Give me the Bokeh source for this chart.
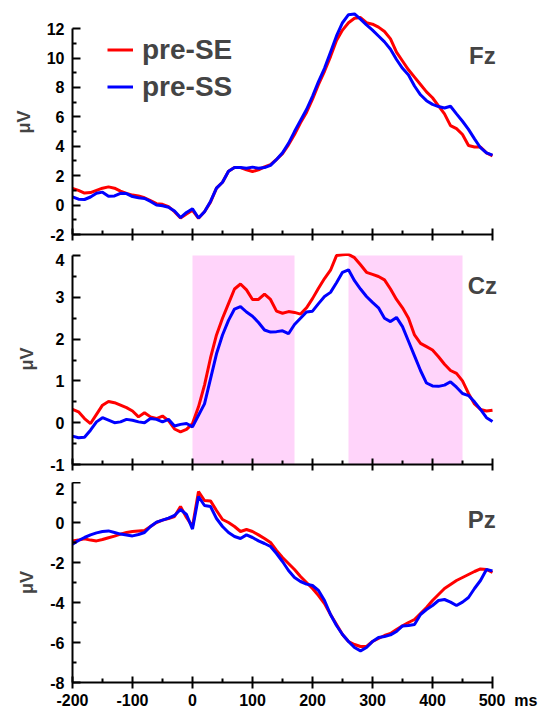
from bokeh.plotting import figure
from bokeh.models import (Range1d, BoxAnnotation, Label, Legend, LegendItem,
                          FixedTicker)
from bokeh.layouts import column
from bokeh.embed import file_html
from bokeh.resources import INLINE

# ---------------- data ----------------
time_ms = list(range(-200, 501, 10))

fz_pre_se = [1.13, 1.0, 0.82, 0.85, 1.0, 1.15, 1.24, 1.15, 0.95, 0.8,
             0.68, 0.62, 0.5, 0.3, 0.1, 0.05, -0.1, -0.45, -0.88, -0.6,
             -0.35, -0.9, -0.45, 0.2, 1.15, 1.55, 2.3, 2.55, 2.55, 2.4,
             2.28, 2.4, 2.6, 2.75, 3.1, 3.5, 4.1, 4.8, 5.6, 6.3,
             7.2, 8.2, 9.1, 10.1, 11.2, 11.9, 12.4, 12.7, 12.75, 12.4,
             12.3, 12.1, 11.8, 11.3, 10.4, 9.8, 9.2, 8.7, 8.2, 7.7,
             7.3, 6.75, 6.2, 5.4, 5.2, 4.8, 4.05, 3.95, 3.95, 3.55, 3.35]
fz_pre_ss = [0.56, 0.4, 0.38, 0.55, 0.8, 0.88, 0.6, 0.62, 0.8, 0.78,
             0.58, 0.5, 0.45, 0.25, 0.0, -0.05, -0.15, -0.4, -0.85, -0.5,
             -0.25, -0.88, -0.45, 0.25, 1.15, 1.55, 2.3, 2.55, 2.55, 2.5,
             2.58, 2.5, 2.55, 2.7, 3.1, 3.55, 4.2, 5.0, 5.75, 6.5,
             7.4, 8.4, 9.3, 10.4, 11.5, 12.4, 12.95, 13.0, 12.65, 12.25,
             11.9, 11.5, 11.1, 10.6, 9.9, 9.3, 8.85, 8.1, 7.5, 7.1,
             6.85, 6.7, 6.6, 6.72, 6.2, 5.7, 5.15, 4.5, 3.9, 3.55, 3.4]

cz_pre_se = [0.32, 0.26, 0.1, -0.02, 0.2, 0.42, 0.51, 0.48, 0.42, 0.36,
             0.28, 0.14, 0.24, 0.14, 0.1, 0.16, 0.05, -0.15, -0.22, -0.16,
             -0.02, 0.38, 0.9, 1.55, 2.1, 2.5, 2.85, 3.2, 3.32, 3.18,
             2.95, 2.95, 3.08, 2.95, 2.67, 2.62, 2.66, 2.64, 2.6, 2.75,
             2.97, 3.22, 3.45, 3.65, 4.0, 4.02, 4.03, 3.95, 3.78, 3.6,
             3.55, 3.5, 3.42, 3.2, 2.95, 2.75, 2.5, 2.1, 1.9, 1.82,
             1.74, 1.58, 1.4, 1.25, 1.18, 1.0, 0.7, 0.45, 0.32, 0.28, 0.3]
cz_pre_ss = [-0.32, -0.36, -0.35, -0.18, 0.02, 0.12, 0.06, 0.0, 0.02, 0.08,
             0.06, 0.02, 0.0, 0.1, 0.08, 0.02, 0.08, -0.08, -0.04, -0.02,
             -0.1, 0.18, 0.45, 1.05, 1.65, 2.1, 2.45, 2.72, 2.78, 2.65,
             2.55, 2.4, 2.22, 2.17, 2.18, 2.2, 2.13, 2.35, 2.5, 2.65,
             2.67, 2.85, 3.02, 3.12, 3.35, 3.6, 3.66, 3.4, 3.2, 3.02,
             2.88, 2.75, 2.5, 2.42, 2.52, 2.3, 1.95, 1.6, 1.25, 0.95,
             0.88, 0.87, 0.9, 0.98, 0.85, 0.7, 0.65, 0.5, 0.32, 0.12, 0.03]

pz_pre_se = [-0.92, -0.88, -0.82, -0.88, -0.92, -0.85, -0.76, -0.68, -0.58, -0.5,
             -0.45, -0.42, -0.4, -0.2, 0.0, 0.12, 0.2, 0.3, 0.8, 0.25,
             -0.2, 1.55, 1.1, 1.08, 0.6, 0.15, 0.0, -0.2, -0.45, -0.35,
             -0.45, -0.62, -0.8, -1.0, -1.4, -1.75, -2.05, -2.35, -2.7, -3.0,
             -3.3, -3.65, -4.05, -4.6, -5.1, -5.6, -5.95, -6.1, -6.2, -6.2,
             -5.95, -5.8, -5.65, -5.55, -5.35, -5.17, -5.0, -4.85, -4.55, -4.25,
             -3.9, -3.6, -3.3, -3.1, -2.9, -2.75, -2.6, -2.45, -2.32, -2.35, -2.5]
pz_pre_ss = [-1.08, -0.9, -0.75, -0.62, -0.52, -0.45, -0.42, -0.5, -0.58, -0.62,
             -0.67, -0.6, -0.5, -0.2, 0.02, 0.12, 0.22, 0.35, 0.65, 0.4,
             -0.33, 1.3, 0.85, 0.8, 0.2, -0.2, -0.5, -0.7, -0.8, -0.62,
             -0.75, -0.92, -1.05, -1.2, -1.55, -1.95, -2.4, -2.75, -2.95, -3.08,
             -3.15, -3.4, -3.9, -4.6, -5.15, -5.6, -5.95, -6.25, -6.42, -6.25,
             -5.95, -5.75, -5.7, -5.62, -5.45, -5.17, -5.15, -5.1, -4.6, -4.35,
             -4.15, -3.9, -3.85, -3.98, -4.15, -3.98, -3.75, -3.3, -2.9, -2.35, -2.42]

x_ticks = [-200, -100, 0, 100, 200, 300, 400, 500]
x_minor = [-150, -50, 50, 150, 250, 350, 450]
x_unit = "ms"
fz_ticks = [-2, 0, 2, 4, 6, 8, 10, 12]
cz_ticks = [-1, 0, 1, 2, 3, 4]
pz_ticks = [-8, -6, -4, -2, 0, 2]
shade_windows = [(0, 170), (260, 450)]
series_names = ["pre-SE", "pre-SS"]
series_colors = ["#FF0000", "#0000FF"]

FONT = "Liberation Sans"
TICK_FS = "16px"
LEFT, RIGHT, FW = 72, 8, 474
X_END = 590  # frame extends past 500 ms so side labels are not clipped
NB = "\u00a0"


def make_panel(y_lo, y_top, y_bound_hi, ticks, minor, fh, top, bottom, show_x):
    p = figure(frame_width=FW, frame_height=fh, output_backend="svg",
               toolbar_location=None, x_range=Range1d(-200, X_END),
               y_range=Range1d(y_lo, y_top),
               min_border_left=LEFT, min_border_right=RIGHT,
               min_border_top=top, min_border_bottom=bottom)
    p.outline_line_color = None
    p.grid.visible = False
    p.background_fill_color = "white"
    p.border_fill_color = "white"
    # x axis
    xa = p.xaxis[0]
    xa.ticker = FixedTicker(ticks=x_ticks, minor_ticks=x_minor)
    xa.bounds = (-200, 500)
    xa.axis_line_width = 2
    xa.major_tick_line_width = 2
    xa.minor_tick_line_width = 2
    xa.major_tick_in = 6
    xa.major_tick_out = 6
    xa.minor_tick_in = 4
    xa.minor_tick_out = 0
    xa.major_label_standoff = 3
    xa.major_label_text_font = FONT
    xa.major_label_text_font_style = "bold"
    xa.major_label_text_color = "black"
    xa.major_label_text_font_size = TICK_FS
    if show_x:
        labels = {t: str(t) for t in x_ticks}
        last = x_ticks[-1]
        # unit written after the last tick label; left padding keeps "500" centred
        labels[last] = NB * 7 + str(last) + NB * 2 + x_unit
        xa.major_label_overrides = labels
    else:
        xa.major_label_overrides = {t: "" for t in x_ticks}
    # y axis
    ya = p.yaxis[0]
    ya.ticker = FixedTicker(ticks=ticks, minor_ticks=minor)
    ya.bounds = (y_lo, y_bound_hi)
    ya.axis_line_width = 2
    ya.major_tick_line_width = 2
    ya.minor_tick_line_width = 2
    ya.major_tick_in = 8
    ya.major_tick_out = 0
    ya.minor_tick_in = 4
    ya.minor_tick_out = 0
    ya.major_label_standoff = 8
    ya.major_label_text_font = FONT
    ya.major_label_text_font_style = "bold"
    ya.major_label_text_font_size = TICK_FS
    ya.major_label_text_color = "black"
    ya.major_label_overrides = {t: str(t) for t in ticks}
    ya.axis_label = "μV"
    ya.axis_label_text_font = FONT
    ya.axis_label_text_font_style = "bold"
    ya.axis_label_text_font_size = "18px"
    ya.axis_label_standoff = 10
    return p


def add_curves(p, series):
    rs = []
    for vals, col in zip(series, series_colors):
        rs.append(p.line(time_ms, vals, line_color=col, line_width=3))
    return rs


def add_name(p, name, x, y):
    p.add_layout(Label(x=x, y=y, text=name, text_font=FONT,
                       text_font_style="bold", text_font_size="24px",
                       text_align="center", text_baseline="middle"))


# ---- Fz ----
p1 = make_panel(-2, 13.3, 12, fz_ticks, [-1, 1, 3, 5, 7, 9, 11], 225, 9, 19, False)
r1 = add_curves(p1, [fz_pre_se, fz_pre_ss])
add_name(p1, "Fz", 483, 10.2)
leg = Legend(items=[LegendItem(label=n, renderers=[r]) for n, r in zip(series_names, r1)],
             location=(35, 129), padding=0, margin=0, spacing=0,
             glyph_width=26, glyph_height=37, label_height=37,
             label_standoff=9, border_line_color=None,
             background_fill_alpha=0, label_text_font=FONT,
             label_text_font_style="bold", label_text_font_size="28px")
p1.add_layout(leg, "center")

# ---- Cz ----
p2 = make_panel(-1, 4.05, 4, cz_ticks, [-0.5, 0.5, 1.5, 2.5, 3.5], 211, 0, 18, False)
for a, b in shade_windows:
    p2.add_layout(BoxAnnotation(left=a, right=b, bottom=-1, top=4,
                                fill_color="#FFD4FA", fill_alpha=1.0,
                                line_color=None, level="underlay"))
add_curves(p2, [cz_pre_se, cz_pre_ss])
add_name(p2, "Cz", 483, 3.28)

# ---- Pz ----
p3 = make_panel(-8, 2, 2, pz_ticks, [-7, -5, -3, -1, 1], 200, 0, 25, True)
add_curves(p3, [pz_pre_se, pz_pre_ss])
add_name(p3, "Pz", 482, 0.13)

layout = column(p1, p2, p3, spacing=0)
open("out.html", "w").write(file_html(layout, INLINE))
